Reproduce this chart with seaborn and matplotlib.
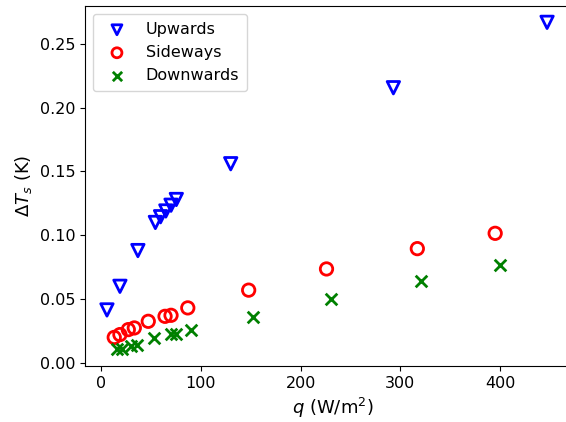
import matplotlib
matplotlib.use("Agg")
import matplotlib.pyplot as plt
import seaborn as sns
import pandas as pd

up_q = [6, 19, 37, 54.5, 59.7, 65, 70.2, 75.5, 130, 293, 447]
up_dT = [0.0415, 0.060, 0.088, 0.110, 0.1145, 0.119, 0.1235, 0.128, 0.156, 0.2155, 0.2667]

side_q = [13.3, 19, 27.4, 33.4, 47.4, 64.2, 70.2, 87, 148, 226, 317, 395]
side_dT = [0.0200, 0.0222, 0.0261, 0.0274, 0.0326, 0.0365, 0.0373, 0.0431, 0.057, 0.0736, 0.0895, 0.1015]

down_q = [16, 21, 30, 36, 53, 70, 75, 90, 152, 230, 321, 400]
down_dT = [0.0112, 0.0112, 0.0135, 0.0143, 0.0198, 0.0230, 0.0230, 0.0261, 0.0358, 0.0499, 0.0645, 0.0767]

plt.rcParams['font.family'] = ['DejaVu Sans']
fig = plt.figure(figsize=(5.66, 4.22), dpi=100)
ax = fig.add_axes([85/566, 56/422, 495/566, 360/422])

sns.scatterplot(x=up_q, y=up_dT, ax=ax, marker='v', s=80, facecolors='none',
                edgecolors='blue', linewidths=2, label='Upwards')
sns.scatterplot(x=side_q, y=side_dT, ax=ax, marker='o', s=80, facecolors='none',
                edgecolors='red', linewidths=2, label='Sideways')
sns.scatterplot(x=down_q, y=down_dT, ax=ax, marker='x', s=70, color='green',
                linewidths=2, label='Downwards')

ax.set_xlim(-16, 480)
ax.set_ylim(-0.0024, 0.2795)
ax.spines['right'].set_visible(False)
ax.set_xticks([0, 100, 200, 300, 400])
ax.set_yticks([0.0, 0.05, 0.10, 0.15, 0.20, 0.25])
ax.set_yticklabels(['0.00', '0.05', '0.10', '0.15', '0.20', '0.25'])
ax.tick_params(labelsize=11.5)
ax.set_xlabel(r'$q$ (W/m$^2$)', fontsize=13)
ax.set_ylabel(r'$\Delta T_s$ (K)', fontsize=13)
ax.legend(loc='upper left', fontsize=11.5, markerscale=0.8, borderpad=0.5)

fig.savefig('out.png', dpi=100)
